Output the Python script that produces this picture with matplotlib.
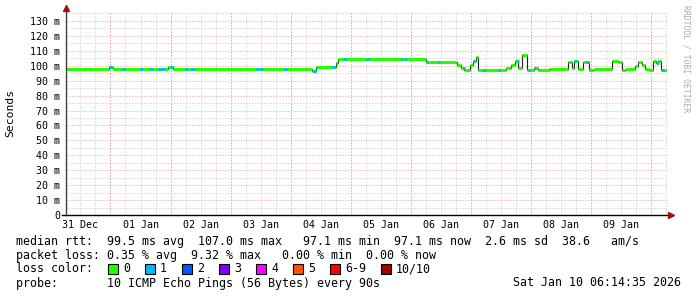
from datetime import datetime, timedelta
import numpy as np
import matplotlib
matplotlib.use("Agg")
import matplotlib.pyplot as plt
import matplotlib.dates as mdates
from matplotlib.ticker import MultipleLocator, FuncFormatter
from matplotlib.patches import Rectangle

# time window of the graph
start = datetime(2025, 12, 31, 6, 14, 35)
end = datetime(2026, 1, 10, 6, 14, 35)

# median rtt (ms), step changes: hours after start -> value
step_hours = [0, 17.2, 18.8, 40.8, 42.8, 98.4, 100, 108, 108.8, 143.6, 156, 157.6,
              158.8, 161.2, 162.4, 163.6, 164.4, 175.6, 177.6, 179.2, 180.4, 182,
              184, 186.8, 188.4, 192.8, 197.6, 200.4, 202, 202.8, 204.4, 206.4,
              208.8, 210.8, 215.2, 218, 220.4, 222, 223.6, 227.2, 228.4, 230,
              231.2, 232.8, 234.4, 235.6, 236.4, 237.6, 240]
median_ms = [97.8, 99.3, 98.0, 99.3, 97.8, 96.6, 99.3, 101.5, 104.5, 102.4, 100.3, 98.4,
             97.2, 100.3, 102.9, 105.6, 97.2, 98.2, 100.5, 103.0, 98.3, 107.0,
             97.3, 98.3, 97.4, 98.0, 97.6, 102.7, 98.5, 103.2, 97.8, 102.7,
             97.2, 97.9, 97.5, 103.3, 102.6, 97.2, 98.0, 100.0, 102.8, 100.5,
             98.0, 97.2, 103.3, 101.5, 103.3, 97.4, 97.4]

# hours with 1/10 packets lost
loss1_hours = [17.2, 22.4, 29.6, 33.6, 36.8, 38.4, 41.6, 47.6, 50, 76, 77.6, 87.2,
               98.8, 106.4, 110.8, 120, 133.6, 135.2, 143.6, 148.4, 158.4, 162.4,
               166.4, 172.4, 180, 184.4, 186.8, 202.8, 207.6, 236, 238]

loss_labels = ['0', '1', '2', '3', '4', '5', '6-9', '10/10']
loss_colors = ['#26ff00', '#00b8ff', '#0059ff', '#7e00ff', '#ff00ff', '#ff5500',
               '#ff0000', '#a10000']

W, H = 697, 297
mono = 'DejaVu Sans Mono'
plt.rcParams['font.family'] = mono

fig = plt.figure(figsize=(W / 100, H / 100), dpi=100)
ax = fig.add_axes([66 / W, (H - 215) / H, (667 - 66) / W, 203 / H])

times = [start + timedelta(hours=h) for h in step_hours]
tnum = mdates.date2num(times)

# black median line (visible on the vertical steps)
ax.step(tnum, median_ms, where='post', color='#202020', lw=0.8, zorder=3)

# coloured band for each step
for i in range(len(tnum) - 1):
    ax.plot([tnum[i], tnum[i + 1]], [median_ms[i], median_ms[i]],
            color=loss_colors[0], lw=2.2, solid_capstyle='butt', zorder=4)

# loss 1 segments
for h in loss1_hours:
    k = np.searchsorted(step_hours, h, side='right') - 1
    t0 = mdates.date2num(start + timedelta(hours=h))
    t1 = mdates.date2num(start + timedelta(hours=h + 1.0))
    ax.plot([t0, t1], [median_ms[k], median_ms[k]], color=loss_colors[1],
            lw=2.2, solid_capstyle='butt', zorder=5)

ax.set_xlim(mdates.date2num(start), mdates.date2num(end))
ax.set_ylim(0, 136)

# grid
dots = (0, (1, 2))
ax.xaxis.remove_overlapping_locs = False
ax.xaxis.set_major_locator(mdates.HourLocator(byhour=[12]))
ax.xaxis.set_minor_locator(mdates.HourLocator(byhour=[0, 6, 12, 18]))
ax.xaxis.set_major_formatter(mdates.DateFormatter('%d %b'))
ax.yaxis.set_major_locator(MultipleLocator(10))
ax.yaxis.set_minor_locator(MultipleLocator(5))
ax.yaxis.set_major_formatter(FuncFormatter(lambda v, p: '0' if v == 0 else '%d m' % v))
ax.set_axisbelow(True)
ax.grid(which='minor', color='#c4c4c4', ls=dots, lw=0.72)
ax.grid(which='major', axis='y', color='#ec9a9a', ls=dots, lw=0.72)
d = start.replace(hour=0, minute=0, second=0) + timedelta(days=1)
while d < end:
    ax.axvline(mdates.date2num(d), color='#ec9a9a', ls=dots, lw=0.72, zorder=1)
    d += timedelta(days=1)

ax.tick_params(which='both', length=0, labelsize=7.2, colors='black')
ax.tick_params(axis='x', pad=3.5)
ax.tick_params(axis='y', pad=4.3)

for s in ['top', 'right', 'left', 'bottom']:
    ax.spines[s].set_visible(False)
ax.plot([0, 0], [0, 1.02], transform=ax.transAxes, color='#404040', lw=1.0,
        clip_on=False, zorder=6)
ax.plot([-0.006, 1.005], [0, 0], transform=ax.transAxes, color='black', lw=1.0,
        clip_on=False, zorder=6)
ax.plot([0], [1.02], marker='^', ms=4, color='#a01010', transform=ax.transAxes,
        clip_on=False, zorder=7)
ax.plot([1.006], [0], marker='>', ms=4, color='#a01010', transform=ax.transAxes,
        clip_on=False, zorder=7)

def ftext(x, y, s, **kw):
    fig.text(x / W, 1 - y / H, s, va='center', **kw)

ftext(10, 113, 'Seconds', rotation=90, ha='center', fontsize=8.2)
ftext(686, 59, 'RRDTOOL / TOBI OETIKER', rotation=270, ha='center',
      fontsize=5.8, color='#aaaaaa')

fs = 8.4
ftext(16, 241, 'median rtt:  99.5 ms avg  107.0 ms max   97.1 ms min  97.1 ms now  '
      '2.6 ms sd  38.6   am/s', fontsize=fs)
ftext(16, 255, 'packet loss: 0.35 % avg  9.32 % max   0.00 % min  0.00 % now', fontsize=fs)
ftext(16, 269, 'loss color:', fontsize=fs)
bx = 108
for lab, col in zip(loss_labels, loss_colors):
    fig.add_artist(Rectangle((bx / W, 1 - 274 / H), 10 / W, 10 / H,
                             facecolor=col, edgecolor='black', lw=0.8,
                             transform=fig.transFigure))
    ftext(bx + 15, 269, lab, fontsize=fs)
    bx += 30 + 7 * len(lab)
ftext(16, 283, 'probe:       10 ICMP Echo Pings (56 Bytes) every 90s', fontsize=fs)
ftext(681, 283, 'Sat Jan 10 06:14:35 2026', ha='right', fontsize=fs)

fig.savefig('out.png', dpi=100)
